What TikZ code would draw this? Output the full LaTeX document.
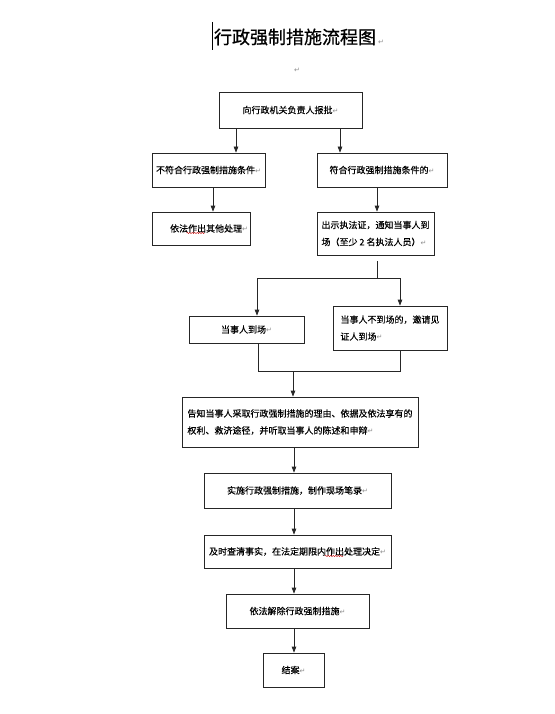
\documentclass[tikz,border=0pt]{standalone}
\usepackage{fontspec}
\setmainfont[FakeBold=0.35]{Noto Sans CJK SC}
\newfontfamily\titlefont[FakeBold=0.8]{Noto Sans CJK SC}
\newfontfamily\symfont{DejaVu Sans}
\usetikzlibrary{arrows.meta,decorations.pathmorphing}
\newcommand{\rmk}{{\symfont\fontsize{7}{7}\selectfont\color{black!45}↵}}
\begin{document}
\begin{tikzpicture}[x=1pt,y=-1pt,
  box/.style={draw=black!85, line width=0.7pt, inner sep=2pt,
    font=\fontsize{9}{17}\selectfont, align=left},
  ln/.style={draw=black!85, line width=0.7pt},
  arr/.style={ln, -{Triangle[width=4.5pt,length=6pt]}},
  squig/.style={draw=red!80!black, line width=0.4pt, decorate,
    decoration={snake,amplitude=0.6pt,segment length=2.5pt}}]
\useasboundingbox (0,0) rectangle (554,714);

% title
\draw[line width=1pt] (212,22) coordinate (cur1) -- (212,50) coordinate (cur2);
\node (title) at (295,37) {\titlefont\fontsize{18}{18}\selectfont 行政强制措施流程图};
\node (tmark) at (381,42) {\rmk};
\node (emark) at (297,70) {\rmk};

% boxes
\node[box, minimum width=143, minimum height=36] (b1) at (290.5,110) {向行政机关负责人报批\rmk};
\node[box, minimum width=113, minimum height=34] (b2L) at (208.5,170) {不符合行政强制措施条件\rmk};
\node[box, minimum width=130, minimum height=34] (b2R) at (382,170) {符合行政强制措施条件的\rmk};
\node[box, minimum width=98, minimum height=33, align=right, text width=94] (b3L) at (201,228.5) {依法作出其他处理\rmk};
\node[box, minimum width=117, minimum height=43] (b3R) at (375.5,233.5) {出示执法证，通知当事人到\\场（至少 2 名执法人员）\rmk};
\node[box, minimum width=115, minimum height=27] (b4L) at (246.5,329.5) {当事人到场\rmk};
\node[box, minimum width=114, minimum height=44] (b4R) at (390,328) {当事人不到场的，邀请见\\证人到场\rmk};
\node[box, minimum width=236, minimum height=50] (b5) at (300,422) {告知当事人采取行政强制措施的理由、依据及依法享有的\\权利、救济途径，并听取当事人的陈述和申辩\rmk};
\node[box, minimum width=187, minimum height=35] (b6) at (297.5,490.5) {实施行政强制措施，制作现场笔录\rmk};
\node[box, minimum width=187, minimum height=33] (b7) at (297.5,551.5) {及时查清事实，在法定期限内作出处理决定\rmk};
\node[box, minimum width=143, minimum height=34] (b8) at (297.5,611) {依法解除行政强制措施\rmk};
\node[box, minimum width=61, minimum height=34] (b9) at (293.5,670) {结案\rmk};

% spell-check marks
\draw[squig] (186.5,233) coordinate (q1) -- (204.5,233) coordinate (q2);
\draw[squig] (325,556) coordinate (q3) -- (343,556) coordinate (q4);

% connectors
\draw[arr] ([xshift=-54.5]b1.south) -- ([xshift=27.5]b2L.north);
\draw[arr] ([xshift=49.5]b1.south) -- ([xshift=-42]b2R.north);
\draw[arr] ([xshift=4.5]b2L.south) -- ([xshift=12]b3L.north);
\draw[arr] ([xshift=-5]b2R.south) -- ([xshift=1.5]b3R.north);

\coordinate (s0) at (377,261);
\coordinate (s1) at (377,278);
\draw[ln] (s0) -- (s1);
\draw[arr] (s1) -| ([xshift=10.5]b4L.north);
\draw[arr] (s1) -| ([xshift=10]b4R.north);

\coordinate (m1) at (293,371);
\draw[ln] ([xshift=11.5]b4L.south) |- (m1);
\draw[ln] ([xshift=10]b4R.south) |- (m1);
\draw[arr] (m1) -- ([xshift=-7]b5.north);

\draw[arr] ([xshift=-6]b5.south) -- ([xshift=-3.5]b6.north);
\draw[arr] ([xshift=-3.5]b6.south) -- ([xshift=-3.5]b7.north);
\draw[arr] ([xshift=-3.5]b7.south) -- ([xshift=-3.5]b8.north);
\draw[arr] ([xshift=-3.5]b8.south) -- ([xshift=0.5]b9.north);
\end{tikzpicture}
\end{document}
